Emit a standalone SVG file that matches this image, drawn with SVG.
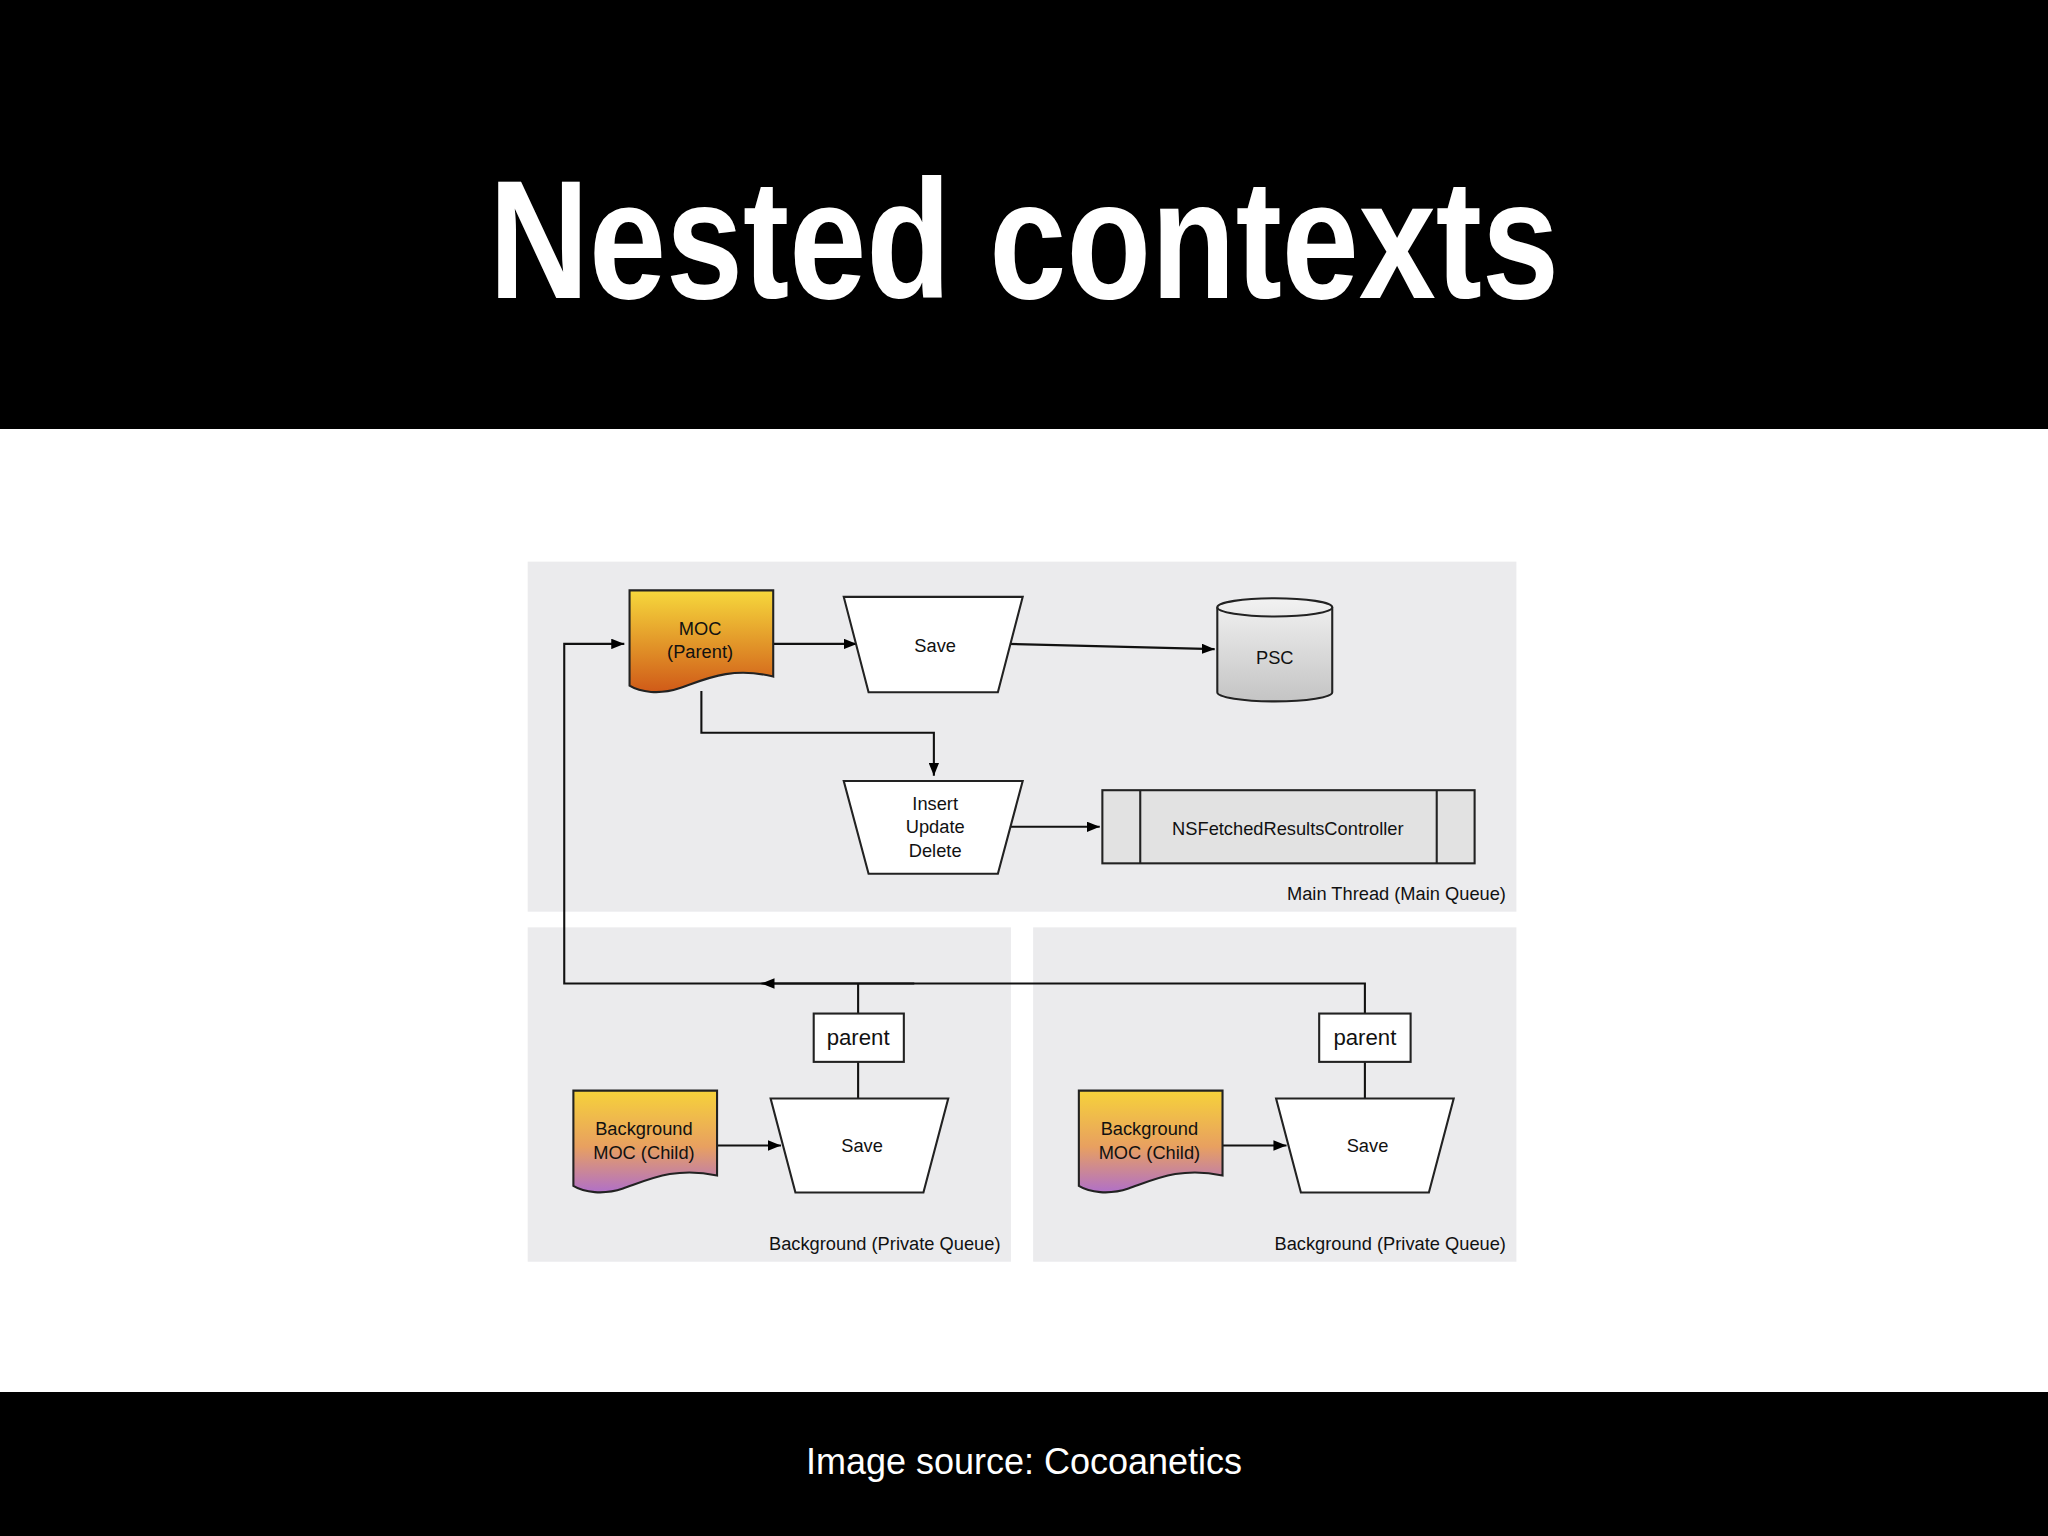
<svg xmlns="http://www.w3.org/2000/svg" width="2048" height="1536" viewBox="0 0 2048 1536">
<defs>
<linearGradient id="gOr" x1="0" y1="0" x2="0" y2="1"><stop offset="0" stop-color="#f6d83c"/><stop offset="1" stop-color="#d05a18"/></linearGradient>
<linearGradient id="gPu" x1="0" y1="0" x2="0" y2="1"><stop offset="0" stop-color="#f6d23a"/><stop offset="0.55" stop-color="#e8a060"/><stop offset="1" stop-color="#b070c8"/></linearGradient>
<linearGradient id="gCy" x1="0" y1="0" x2="0" y2="1"><stop offset="0" stop-color="#f2f2f2"/><stop offset="1" stop-color="#c4c4c4"/></linearGradient>
<marker id="ah" markerWidth="10" markerHeight="8" refX="10" refY="4" orient="auto" markerUnits="userSpaceOnUse"><path d="M0,0 L10,4 L0,8 Z" fill="#000"/></marker>
<style>
.sh{stroke:#222;stroke-width:1.6}
.t{font-family:"Liberation Sans",Arial,sans-serif;font-size:14px;fill:#111;text-anchor:middle}
.lab{font-family:"Liberation Sans",Arial,sans-serif;font-size:14px;fill:#111;text-anchor:end}
.c{fill:none;stroke:#111;stroke-width:1.6}
.panel{fill:#ebebed}
</style>
</defs>
<rect width="2048" height="1536" fill="#fff"/>
<rect width="2048" height="429" fill="#000"/>
<rect y="1392" width="2048" height="144" fill="#000"/>
<text x="1024" y="298" font-family="Liberation Sans,Arial,sans-serif" font-weight="bold" font-size="168" fill="#fff" text-anchor="middle" textLength="1070" lengthAdjust="spacingAndGlyphs">Nested contexts</text>
<text x="1024" y="1474" font-family="Liberation Sans,Arial,sans-serif" font-size="36" fill="#fff" text-anchor="middle">Image source: Cocoanetics</text>
<g transform="scale(1.30612)">
<g id="panels">
<rect class="panel" x="404" y="430" width="757" height="268"/>
<rect class="panel" x="404" y="710" width="370" height="256"/>
<rect class="panel" x="791" y="710" width="370" height="256"/>
<text class="lab" x="1153" y="689">Main Thread (Main Queue)</text>
<text class="lab" x="766" y="957">Background (Private Queue)</text>
<text class="lab" x="1153" y="957">Background (Private Queue)</text>
</g>
<g id="connectors">
<path class="c" d="M592,493 H656" marker-end="url(#ah)"/>
<path class="c" d="M772,493 L930,497" marker-end="url(#ah)"/>
<path class="c" d="M537,529 V561 H715 V594" marker-end="url(#ah)"/>
<path class="c" d="M770,633 H842" marker-end="url(#ah)"/>
<path class="c" d="M1045,776 V753 H432 V493 H478" marker-end="url(#ah)"/>
<path class="c" d="M700,753 H583" marker-end="url(#ah)"/>
<path class="c" d="M657,753 V776 M657,813 V841 M1045,813 V841"/>
<path class="c" d="M549,877 H598" marker-end="url(#ah)"/>
<path class="c" d="M936,877 H985" marker-end="url(#ah)"/>
</g>
<g id="moc-parent">
<path class="sh" fill="url(#gOr)" d="M482,452 H592 V518 C560,510 540,520 520,527 C505,532 490,530 482,525 Z"/>
<text class="t" x="536" y="486">MOC</text><text class="t" x="536" y="504">(Parent)</text>
</g>
<g id="save-main">
<path class="sh" fill="#fff" d="M646,457 H783 L764,530 H665 Z"/>
<text class="t" x="716" y="499">Save</text>
</g>
<g id="psc">
<path class="sh" fill="url(#gCy)" d="M932,465 V530 A44,7 0 0 0 1020,530 V465 A44,7 0 0 0 932,465 Z"/>
<path class="sh" fill="none" d="M932,465 A44,7 0 0 0 1020,465"/>
<text class="t" x="976" y="508">PSC</text>
</g>
<g id="insert">
<path class="sh" fill="#fff" d="M646,598 H783 L764,669 H665 Z"/>
<text class="t" x="716" y="620">Insert</text><text class="t" x="716" y="638">Update</text><text class="t" x="716" y="656">Delete</text>
</g>
<g id="nsfrc">
<rect class="sh" fill="#e2e2e2" x="844" y="605" width="285" height="56"/>
<path class="sh" d="M873,605 V661 M1100,605 V661"/>
<text class="t" x="986" y="639">NSFetchedResultsController</text>
</g>
<g id="bg1-moc">
<path class="sh" fill="url(#gPu)" d="M439,835 H549 V900 C517,893 497,903 477,910 C462,915 447,913 439,908 Z"/>
<text class="t" x="493" y="869">Background</text><text class="t" x="493" y="887">MOC (Child)</text>
</g>
<g id="bg1-save">
<path class="sh" fill="#fff" d="M590,841 H726 L707,913 H609 Z"/>
<text class="t" x="660" y="882">Save</text>
</g>
<g id="bg1-parent">
<rect class="sh" fill="#fff" x="623" y="776" width="69" height="37"/>
<text class="t" x="657" y="800" style="font-size:17px">parent</text>
</g>
<g id="bg2-moc">
<path class="sh" fill="url(#gPu)" d="M826,835 H936 V900 C904,893 884,903 864,910 C849,915 834,913 826,908 Z"/>
<text class="t" x="880" y="869">Background</text><text class="t" x="880" y="887">MOC (Child)</text>
</g>
<g id="bg2-save">
<path class="sh" fill="#fff" d="M977,841 H1113 L1094,913 H996 Z"/>
<text class="t" x="1047" y="882">Save</text>
</g>
<g id="bg2-parent">
<rect class="sh" fill="#fff" x="1010" y="776" width="70" height="37"/>
<text class="t" x="1045" y="800" style="font-size:17px">parent</text>
</g>
</g>
</svg>
